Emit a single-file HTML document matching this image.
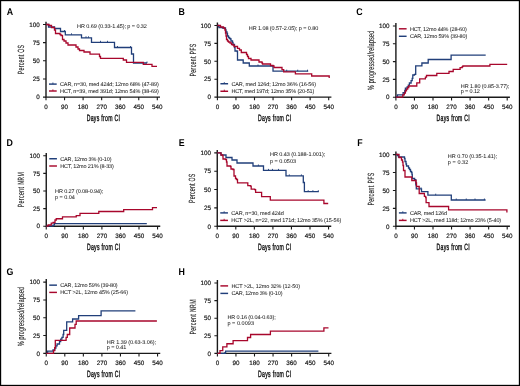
<!DOCTYPE html>
<html><head><meta charset="utf-8"><style>
html,body{margin:0;padding:0;background:#fff;}
svg{display:block;will-change:transform;}
text{font-family:"Liberation Sans", sans-serif;text-rendering:geometricPrecision;}
</style></head><body>
<svg width="520" height="386" viewBox="0 0 520 386">
<rect x="0.5" y="0.5" width="519" height="385" fill="#fff" stroke="#000" stroke-width="1.35"/>
<g><text transform="translate(6.7 14.8) scale(0.9 1)" font-size="9.8" font-weight="bold" fill="#000">A</text><path d="M46 21.8V97.1H160" fill="none" stroke="#1a1a1a" stroke-width="1.4"/><text x="39.7" y="99.35" font-size="6.3" text-anchor="end" fill="#111" stroke="#111" stroke-width="0.16">0</text><text x="39.7" y="81.2" font-size="6.3" text-anchor="end" fill="#111" stroke="#111" stroke-width="0.16">25</text><text x="39.7" y="63.05" font-size="6.3" text-anchor="end" fill="#111" stroke="#111" stroke-width="0.16">50</text><text x="39.7" y="44.9" font-size="6.3" text-anchor="end" fill="#111" stroke="#111" stroke-width="0.16">75</text><text x="39.7" y="26.75" font-size="6.3" text-anchor="end" fill="#111" stroke="#111" stroke-width="0.16">100</text><text x="46" y="108.7" font-size="6.3" text-anchor="middle" fill="#111" stroke="#111" stroke-width="0.16">0</text><text x="64.55" y="108.7" font-size="6.3" text-anchor="middle" fill="#111" stroke="#111" stroke-width="0.16">90</text><text x="83.1" y="108.7" font-size="6.3" text-anchor="middle" fill="#111" stroke="#111" stroke-width="0.16">180</text><text x="101.65" y="108.7" font-size="6.3" text-anchor="middle" fill="#111" stroke="#111" stroke-width="0.16">270</text><text x="120.2" y="108.7" font-size="6.3" text-anchor="middle" fill="#111" stroke="#111" stroke-width="0.16">360</text><text x="138.75" y="108.7" font-size="6.3" text-anchor="middle" fill="#111" stroke="#111" stroke-width="0.16">450</text><text x="157.3" y="108.7" font-size="6.3" text-anchor="middle" fill="#111" stroke="#111" stroke-width="0.16">540</text><path d="M43 97.1H46M43 78.95H46M43 60.8H46M43 42.65H46M43 24.5H46M46 97.1V100.3M64.55 97.1V100.3M83.1 97.1V100.3M101.65 97.1V100.3M120.2 97.1V100.3M138.75 97.1V100.3M157.3 97.1V100.3" fill="none" stroke="#1a1a1a" stroke-width="1.1"/><text transform="translate(86.7 120.7) scale(0.57 1)" font-size="9.0" textLength="58.25" lengthAdjust="spacing" fill="#111" stroke="#111" stroke-width="0.4">Days from CI</text><text transform="translate(24.1 74.2) rotate(-90) scale(0.57 1)" x="0" y="0" font-size="9.0" textLength="51.23" lengthAdjust="spacing" fill="#111" stroke="#111" stroke-width="0.12">Percent OS</text><path d="M49 84.1H56.7" stroke="#213f7a" stroke-width="1.45"/><path d="M52.9 84.1v-1.6" stroke="#213f7a" stroke-width="0.9"/><text transform="translate(60 85.95) scale(1.0 1)" font-size="5.5" textLength="98.8" lengthAdjust="spacing" fill="#222" stroke="#222" stroke-width="0.04">CAR, n=30, med 424d; 12mo 68% (47-89)</text><path d="M49 91H56.7" stroke="#a8072c" stroke-width="1.45"/><path d="M52.9 91v-1.6" stroke="#a8072c" stroke-width="0.9"/><text transform="translate(60 92.85) scale(1.0 1)" font-size="5.5" textLength="98.8" lengthAdjust="spacing" fill="#222" stroke="#222" stroke-width="0.04">HCT, n=39, med 391d; 12mo 54% (38-69)</text><text transform="translate(77.1 27.6) scale(1.0 1)" font-size="5.5" textLength="69.8" lengthAdjust="spacing" fill="#222" stroke="#222" stroke-width="0.04">HR 0.69 (0.33-1.45); p = 0.32</text><path d="M46 24.5H48.5V27H54.5V28.5H60.5V31.5H65.3V34.8H81.5V37.8H91.5V42.3H114.5V47.5H131.5V54H133.5V63H147" fill="none" stroke="#213f7a" stroke-width="1.3" stroke-linejoin="miter"/><path d="M64.5 31.5v-1.5M71.5 34.8v-1.5M86 37.8v-1.5M88.5 37.8v-1.5M100.5 42.3v-1.5M107.5 42.3v-1.5M117.5 47.5v-1.5M130.5 47.5v-1.5M147 63v-1.5" fill="none" stroke="#213f7a" stroke-width="0.9"/><path d="M46 24.5H49V25.5H51.5V27.5H54.5V30H55.5V33.5H60V34.5H61V35.5H62.5V39.5H64V41H66V43H68V45H76V47H78V49H79.5V50.5H84V52H90V54.2H99.5V56.5H100.5V58.3H123.3V60H126.5V62.3H143.3V64.4H152V66.3H157" fill="none" stroke="#a8072c" stroke-width="1.3" stroke-linejoin="miter"/></g>
<g><text transform="translate(178.4 14.8) scale(0.9 1)" font-size="9.8" font-weight="bold" fill="#000">B</text><path d="M217.4 22.5V97.1H331.4" fill="none" stroke="#1a1a1a" stroke-width="1.4"/><text x="211.1" y="99.35" font-size="6.3" text-anchor="end" fill="#111" stroke="#111" stroke-width="0.16">0</text><text x="211.1" y="81.45" font-size="6.3" text-anchor="end" fill="#111" stroke="#111" stroke-width="0.16">25</text><text x="211.1" y="63.55" font-size="6.3" text-anchor="end" fill="#111" stroke="#111" stroke-width="0.16">50</text><text x="211.1" y="45.65" font-size="6.3" text-anchor="end" fill="#111" stroke="#111" stroke-width="0.16">75</text><text x="211.1" y="27.75" font-size="6.3" text-anchor="end" fill="#111" stroke="#111" stroke-width="0.16">100</text><text x="217.4" y="108.7" font-size="6.3" text-anchor="middle" fill="#111" stroke="#111" stroke-width="0.16">0</text><text x="235.95" y="108.7" font-size="6.3" text-anchor="middle" fill="#111" stroke="#111" stroke-width="0.16">90</text><text x="254.5" y="108.7" font-size="6.3" text-anchor="middle" fill="#111" stroke="#111" stroke-width="0.16">180</text><text x="273.05" y="108.7" font-size="6.3" text-anchor="middle" fill="#111" stroke="#111" stroke-width="0.16">270</text><text x="291.6" y="108.7" font-size="6.3" text-anchor="middle" fill="#111" stroke="#111" stroke-width="0.16">360</text><text x="310.15" y="108.7" font-size="6.3" text-anchor="middle" fill="#111" stroke="#111" stroke-width="0.16">450</text><text x="328.7" y="108.7" font-size="6.3" text-anchor="middle" fill="#111" stroke="#111" stroke-width="0.16">540</text><path d="M214.4 97.1H217.4M214.4 79.2H217.4M214.4 61.3H217.4M214.4 43.4H217.4M214.4 25.5H217.4M217.4 97.1V100.3M235.95 97.1V100.3M254.5 97.1V100.3M273.05 97.1V100.3M291.6 97.1V100.3M310.15 97.1V100.3M328.7 97.1V100.3" fill="none" stroke="#1a1a1a" stroke-width="1.1"/><text transform="translate(258.1 120.7) scale(0.57 1)" font-size="9.0" textLength="58.25" lengthAdjust="spacing" fill="#111" stroke="#111" stroke-width="0.4">Days from CI</text><text transform="translate(195.5 76.4) rotate(-90) scale(0.57 1)" x="0" y="0" font-size="9.0" textLength="57.19" lengthAdjust="spacing" fill="#111" stroke="#111" stroke-width="0.12">Percent PFS</text><path d="M220.4 83.75H228.1" stroke="#213f7a" stroke-width="1.45"/><path d="M224.3 83.75v-1.6" stroke="#213f7a" stroke-width="0.9"/><text transform="translate(231.4 85.6) scale(1.0 1)" font-size="5.5" textLength="84.7" lengthAdjust="spacing" fill="#222" stroke="#222" stroke-width="0.04">CAR, med 126d; 12mo 36% (16-56)</text><path d="M220.4 91.25H228.1" stroke="#a8072c" stroke-width="1.45"/><path d="M224.3 91.25v-1.6" stroke="#a8072c" stroke-width="0.9"/><text transform="translate(231.4 93.1) scale(1.0 1)" font-size="5.5" textLength="83" lengthAdjust="spacing" fill="#222" stroke="#222" stroke-width="0.04">HCT, med 197d; 12mo 35% (20-51)</text><text transform="translate(248.8 29.6) scale(1.0 1)" font-size="5.5" textLength="69.4" lengthAdjust="spacing" fill="#222" stroke="#222" stroke-width="0.04">HR 1.08 (0.57-2.05); p = 0.80</text><path d="M217.4 25.5H218.5V26.5H219V27.5H222.5V28H225.5V30H226V32H227V33.5H227.5V36H228.5V37.5H229.5V38.5H230.5V39H231V41H232.5V42.5H233V44.5H234.5V47.5H235V51H237.2V51.5H237.5V60H243.2V63H249.3V66H273V71.2H308.2" fill="none" stroke="#213f7a" stroke-width="1.3" stroke-linejoin="miter"/><path d="M258 66v-1.5M286.7 71.2v-1.5M297.7 71.2v-1.5M307.5 71.2v-1.5" fill="none" stroke="#213f7a" stroke-width="0.9"/><path d="M217.4 25.5H220.5V27H223.5V28H224.5V28.5H225V30H225.5V33H226V36H226.5V39.5H227.5V41H228.5V42H230V43H231.5V44.5H233V45H234V46.5H237.5V48.3H239.5V50H241.3V52.5H246.5V54.5H247.5V56.5H248.5V58.5H251V60H259V62H262V63H262.5V64H270.5V65.5H273V66H274V67.5H282V69.6H283.7V71.9H295.4V73.9H311.7V76H329.2V78H329.2V78" fill="none" stroke="#a8072c" stroke-width="1.3" stroke-linejoin="miter"/></g>
<g><text transform="translate(356.3 15) scale(0.9 1)" font-size="9.8" font-weight="bold" fill="#000">C</text><path d="M395.9 23V97.2H509.9" fill="none" stroke="#1a1a1a" stroke-width="1.4"/><text x="389.6" y="99.45" font-size="6.3" text-anchor="end" fill="#111" stroke="#111" stroke-width="0.16">0</text><text x="389.6" y="81.65" font-size="6.3" text-anchor="end" fill="#111" stroke="#111" stroke-width="0.16">25</text><text x="389.6" y="63.85" font-size="6.3" text-anchor="end" fill="#111" stroke="#111" stroke-width="0.16">50</text><text x="389.6" y="46.05" font-size="6.3" text-anchor="end" fill="#111" stroke="#111" stroke-width="0.16">75</text><text x="389.6" y="28.25" font-size="6.3" text-anchor="end" fill="#111" stroke="#111" stroke-width="0.16">100</text><text x="395.9" y="108.8" font-size="6.3" text-anchor="middle" fill="#111" stroke="#111" stroke-width="0.16">0</text><text x="414.45" y="108.8" font-size="6.3" text-anchor="middle" fill="#111" stroke="#111" stroke-width="0.16">90</text><text x="433" y="108.8" font-size="6.3" text-anchor="middle" fill="#111" stroke="#111" stroke-width="0.16">180</text><text x="451.55" y="108.8" font-size="6.3" text-anchor="middle" fill="#111" stroke="#111" stroke-width="0.16">270</text><text x="470.1" y="108.8" font-size="6.3" text-anchor="middle" fill="#111" stroke="#111" stroke-width="0.16">360</text><text x="488.65" y="108.8" font-size="6.3" text-anchor="middle" fill="#111" stroke="#111" stroke-width="0.16">450</text><text x="507.2" y="108.8" font-size="6.3" text-anchor="middle" fill="#111" stroke="#111" stroke-width="0.16">540</text><path d="M392.9 97.2H395.9M392.9 79.4H395.9M392.9 61.6H395.9M392.9 43.8H395.9M392.9 26H395.9M395.9 97.2V100.4M414.45 97.2V100.4M433 97.2V100.4M451.55 97.2V100.4M470.1 97.2V100.4M488.65 97.2V100.4M507.2 97.2V100.4" fill="none" stroke="#1a1a1a" stroke-width="1.1"/><text transform="translate(436.6 120.8) scale(0.57 1)" font-size="9.0" textLength="58.25" lengthAdjust="spacing" fill="#111" stroke="#111" stroke-width="0.4">Days from CI</text><text transform="translate(374 89.9) rotate(-90) scale(0.57 1)" x="0" y="0" font-size="9.0" textLength="103.51" lengthAdjust="spacing" fill="#111" stroke="#111" stroke-width="0.12">% progressed/relapsed</text><path d="M398.9 28.8H406.6" stroke="#a8072c" stroke-width="1.45"/><text transform="translate(409.9 30.65) scale(1.0 1)" font-size="5.5" textLength="56.9" lengthAdjust="spacing" fill="#222" stroke="#222" stroke-width="0.04">HCT, 12mo 44% (28-60)</text><path d="M398.9 36.3H406.6" stroke="#213f7a" stroke-width="1.45"/><text transform="translate(409.9 38.15) scale(1.0 1)" font-size="5.5" textLength="57.4" lengthAdjust="spacing" fill="#222" stroke="#222" stroke-width="0.04">CAR, 12mo 59% (39-80)</text><text transform="translate(460.75 87.5) scale(1.0 1)" font-size="5.5" textLength="48.65" lengthAdjust="spacing" fill="#222" stroke="#222" stroke-width="0.04">HR 1.80 (0.85-3.77);</text><text transform="translate(460.75 93.4) scale(1.0 1)" font-size="5.5" textLength="19.15" lengthAdjust="spacing" fill="#222" stroke="#222" stroke-width="0.04">p = 0.12</text><path d="M395.9 97.1H397.4V94.9H403.1V92.6H404.8V90.3H405.4V88.1H407.1V86.9H408.3V85.2H409.4V83H411.1V80.7H412.2V78.4H412.8V75H414.5V74.4H415.7V65.8H421.9V63H428.2V59.5H451.1V55.1H485.7" fill="none" stroke="#213f7a" stroke-width="1.3" stroke-linejoin="miter"/><path d="M395.9 97.2H402.8V94.9H404.3V93.2H405.4V90.9H406.5V89.2H407.7V87.5H408.8V86H416.8V82.9H419.7V78.9H425.4V77.2H426.5V75.5H436.8V73.3H449V71.5H453.2V69.4H460.1V67.7H462.2V66.6H462.9V66H489.9V64.3H507.2" fill="none" stroke="#a8072c" stroke-width="1.3" stroke-linejoin="miter"/></g>
<g><text transform="translate(6.6 145.9) scale(0.9 1)" font-size="9.8" font-weight="bold" fill="#000">D</text><path d="M46.25 152.9V226.2H160.25" fill="none" stroke="#1a1a1a" stroke-width="1.4"/><text x="39.95" y="228.45" font-size="6.3" text-anchor="end" fill="#111" stroke="#111" stroke-width="0.16">0</text><text x="39.95" y="210.85" font-size="6.3" text-anchor="end" fill="#111" stroke="#111" stroke-width="0.16">25</text><text x="39.95" y="193.25" font-size="6.3" text-anchor="end" fill="#111" stroke="#111" stroke-width="0.16">50</text><text x="39.95" y="175.65" font-size="6.3" text-anchor="end" fill="#111" stroke="#111" stroke-width="0.16">75</text><text x="39.95" y="158.05" font-size="6.3" text-anchor="end" fill="#111" stroke="#111" stroke-width="0.16">100</text><text x="46.25" y="237.8" font-size="6.3" text-anchor="middle" fill="#111" stroke="#111" stroke-width="0.16">0</text><text x="64.8" y="237.8" font-size="6.3" text-anchor="middle" fill="#111" stroke="#111" stroke-width="0.16">90</text><text x="83.35" y="237.8" font-size="6.3" text-anchor="middle" fill="#111" stroke="#111" stroke-width="0.16">180</text><text x="101.9" y="237.8" font-size="6.3" text-anchor="middle" fill="#111" stroke="#111" stroke-width="0.16">270</text><text x="120.45" y="237.8" font-size="6.3" text-anchor="middle" fill="#111" stroke="#111" stroke-width="0.16">360</text><text x="139" y="237.8" font-size="6.3" text-anchor="middle" fill="#111" stroke="#111" stroke-width="0.16">450</text><text x="157.55" y="237.8" font-size="6.3" text-anchor="middle" fill="#111" stroke="#111" stroke-width="0.16">540</text><path d="M43.25 226.2H46.25M43.25 208.6H46.25M43.25 191H46.25M43.25 173.4H46.25M43.25 155.8H46.25M46.25 226.2V229.4M64.8 226.2V229.4M83.35 226.2V229.4M101.9 226.2V229.4M120.45 226.2V229.4M139 226.2V229.4M157.55 226.2V229.4" fill="none" stroke="#1a1a1a" stroke-width="1.1"/><text transform="translate(86.95 249.8) scale(0.57 1)" font-size="9.0" textLength="58.25" lengthAdjust="spacing" fill="#111" stroke="#111" stroke-width="0.4">Days from CI</text><text transform="translate(24.35 207.3) rotate(-90) scale(0.57 1)" x="0" y="0" font-size="9.0" textLength="61.4" lengthAdjust="spacing" fill="#111" stroke="#111" stroke-width="0.12">Percent NRM</text><path d="M49.25 158.75H56.95" stroke="#213f7a" stroke-width="1.45"/><text transform="translate(60.25 160.6) scale(1.0 1)" font-size="5.5" textLength="51.25" lengthAdjust="spacing" fill="#222" stroke="#222" stroke-width="0.04">CAR, 12mo 3% (0-10)</text><path d="M49.25 166H56.95" stroke="#a8072c" stroke-width="1.45"/><text transform="translate(60.25 167.85) scale(1.0 1)" font-size="5.5" textLength="53.55" lengthAdjust="spacing" fill="#222" stroke="#222" stroke-width="0.04">HCT, 12mo 21% (8-33)</text><text transform="translate(55 192.5) scale(1.0 1)" font-size="5.5" textLength="48.3" lengthAdjust="spacing" fill="#222" stroke="#222" stroke-width="0.04">HR 0.27 (0.08-0.94);</text><text transform="translate(55 198.6) scale(1.0 1)" font-size="5.5" textLength="19.8" lengthAdjust="spacing" fill="#222" stroke="#222" stroke-width="0.04">p = 0.04</text><path d="M46.25 226.2H53V225.2H54.4V223.6H146.8" fill="none" stroke="#213f7a" stroke-width="1.3" stroke-linejoin="miter"/><path d="M46.25 226.2H48.1V225H51.25V223.1H53.1V222.5H55V220H56.25V218.75H62.5V216.9H76.25V215.6H80V213.3H98.8V211.5H123.7V209.7H152.5V207.7H157" fill="none" stroke="#a8072c" stroke-width="1.3" stroke-linejoin="miter"/></g>
<g><text transform="translate(178.7 145.9) scale(0.9 1)" font-size="9.8" font-weight="bold" fill="#000">E</text><path d="M217.25 150V226.25H331.25" fill="none" stroke="#1a1a1a" stroke-width="1.4"/><text x="210.95" y="228.5" font-size="6.3" text-anchor="end" fill="#111" stroke="#111" stroke-width="0.16">0</text><text x="210.95" y="210.16" font-size="6.3" text-anchor="end" fill="#111" stroke="#111" stroke-width="0.16">25</text><text x="210.95" y="191.82" font-size="6.3" text-anchor="end" fill="#111" stroke="#111" stroke-width="0.16">50</text><text x="210.95" y="173.49" font-size="6.3" text-anchor="end" fill="#111" stroke="#111" stroke-width="0.16">75</text><text x="210.95" y="155.15" font-size="6.3" text-anchor="end" fill="#111" stroke="#111" stroke-width="0.16">100</text><text x="217.25" y="237.85" font-size="6.3" text-anchor="middle" fill="#111" stroke="#111" stroke-width="0.16">0</text><text x="235.8" y="237.85" font-size="6.3" text-anchor="middle" fill="#111" stroke="#111" stroke-width="0.16">90</text><text x="254.35" y="237.85" font-size="6.3" text-anchor="middle" fill="#111" stroke="#111" stroke-width="0.16">180</text><text x="272.9" y="237.85" font-size="6.3" text-anchor="middle" fill="#111" stroke="#111" stroke-width="0.16">270</text><text x="291.45" y="237.85" font-size="6.3" text-anchor="middle" fill="#111" stroke="#111" stroke-width="0.16">360</text><text x="310" y="237.85" font-size="6.3" text-anchor="middle" fill="#111" stroke="#111" stroke-width="0.16">450</text><text x="328.55" y="237.85" font-size="6.3" text-anchor="middle" fill="#111" stroke="#111" stroke-width="0.16">540</text><path d="M214.25 226.25H217.25M214.25 207.91H217.25M214.25 189.57H217.25M214.25 171.24H217.25M214.25 152.9H217.25M217.25 226.25V229.45M235.8 226.25V229.45M254.35 226.25V229.45M272.9 226.25V229.45M291.45 226.25V229.45M310 226.25V229.45M328.55 226.25V229.45" fill="none" stroke="#1a1a1a" stroke-width="1.1"/><text transform="translate(257.95 249.85) scale(0.57 1)" font-size="9.0" textLength="58.25" lengthAdjust="spacing" fill="#111" stroke="#111" stroke-width="0.4">Days from CI</text><text transform="translate(195.35 202.97) rotate(-90) scale(0.57 1)" x="0" y="0" font-size="9.0" textLength="51.23" lengthAdjust="spacing" fill="#111" stroke="#111" stroke-width="0.12">Percent OS</text><path d="M220.25 212.9H227.95" stroke="#213f7a" stroke-width="1.45"/><path d="M224.15 212.9v-1.6" stroke="#213f7a" stroke-width="0.9"/><text transform="translate(231.25 214.75) scale(1.0 1)" font-size="5.5" textLength="52.5" lengthAdjust="spacing" fill="#222" stroke="#222" stroke-width="0.04">CAR, n=30, med 424d</text><path d="M220.25 220.4H227.95" stroke="#a8072c" stroke-width="1.45"/><path d="M224.15 220.4v-1.6" stroke="#a8072c" stroke-width="0.9"/><text transform="translate(231.25 222.25) scale(1.0 1)" font-size="5.5" textLength="110" lengthAdjust="spacing" fill="#222" stroke="#222" stroke-width="0.04">HCT &gt;2L, n=22, med 171d; 12mo 35% (15-56)</text><text transform="translate(270 156.1) scale(1.0 1)" font-size="5.5" textLength="55.2" lengthAdjust="spacing" fill="#222" stroke="#222" stroke-width="0.04">HR 0.43 (0.188-1.001);</text><text transform="translate(270 162.5) scale(1.0 1)" font-size="5.5" textLength="26" lengthAdjust="spacing" fill="#222" stroke="#222" stroke-width="0.04">p = 0.0503</text><path d="M217.25 152.9H220.5V153H221V155H226V157.5H232V160H237V163H253V166H263.5V170.4H286V175.9H303.3V182.5H304.4V191.7H318.8" fill="none" stroke="#213f7a" stroke-width="1.3" stroke-linejoin="miter"/><path d="M258.4 166v-1.5M268.5 170.4v-1.5M272.5 170.4v-1.5M278.5 170.4v-1.5M289.3 175.9v-1.5M301.4 175.9v-1.5M308.2 191.7v-1.5M312.9 191.7v-1.5M318.3 191.7v-1.5" fill="none" stroke="#213f7a" stroke-width="0.9"/><path d="M217.25 152.9H221V155H222.5V155.5H223V159H225.5V159.5H226.5V162H227V166H230.5V166.5H231V169H233V169.5H234V176H235.5V178.5H236.5V179.5H237.5V182.8H247.8V185.7H250.4V186.2H251.2V189.2H254.7V189.7H255.6V192.3H261.6V196.6H270.3V200.1H323.9V203.5H328.2" fill="none" stroke="#a8072c" stroke-width="1.3" stroke-linejoin="miter"/></g>
<g><text transform="translate(357.2 145.6) scale(0.9 1)" font-size="9.8" font-weight="bold" fill="#000">F</text><path d="M395.9 151.5V226.25H509.9" fill="none" stroke="#1a1a1a" stroke-width="1.4"/><text x="389.6" y="228.5" font-size="6.3" text-anchor="end" fill="#111" stroke="#111" stroke-width="0.16">0</text><text x="389.6" y="210.59" font-size="6.3" text-anchor="end" fill="#111" stroke="#111" stroke-width="0.16">25</text><text x="389.6" y="192.68" font-size="6.3" text-anchor="end" fill="#111" stroke="#111" stroke-width="0.16">50</text><text x="389.6" y="174.76" font-size="6.3" text-anchor="end" fill="#111" stroke="#111" stroke-width="0.16">75</text><text x="389.6" y="156.85" font-size="6.3" text-anchor="end" fill="#111" stroke="#111" stroke-width="0.16">100</text><text x="395.9" y="237.85" font-size="6.3" text-anchor="middle" fill="#111" stroke="#111" stroke-width="0.16">0</text><text x="414.45" y="237.85" font-size="6.3" text-anchor="middle" fill="#111" stroke="#111" stroke-width="0.16">90</text><text x="433" y="237.85" font-size="6.3" text-anchor="middle" fill="#111" stroke="#111" stroke-width="0.16">180</text><text x="451.55" y="237.85" font-size="6.3" text-anchor="middle" fill="#111" stroke="#111" stroke-width="0.16">270</text><text x="470.1" y="237.85" font-size="6.3" text-anchor="middle" fill="#111" stroke="#111" stroke-width="0.16">360</text><text x="488.65" y="237.85" font-size="6.3" text-anchor="middle" fill="#111" stroke="#111" stroke-width="0.16">450</text><text x="507.2" y="237.85" font-size="6.3" text-anchor="middle" fill="#111" stroke="#111" stroke-width="0.16">540</text><path d="M392.9 226.25H395.9M392.9 208.34H395.9M392.9 190.43H395.9M392.9 172.51H395.9M392.9 154.6H395.9M395.9 226.25V229.45M414.45 226.25V229.45M433 226.25V229.45M451.55 226.25V229.45M470.1 226.25V229.45M488.65 226.25V229.45M507.2 226.25V229.45" fill="none" stroke="#1a1a1a" stroke-width="1.1"/><text transform="translate(436.6 249.85) scale(0.57 1)" font-size="9.0" textLength="58.25" lengthAdjust="spacing" fill="#111" stroke="#111" stroke-width="0.4">Days from CI</text><text transform="translate(374 205.53) rotate(-90) scale(0.57 1)" x="0" y="0" font-size="9.0" textLength="57.19" lengthAdjust="spacing" fill="#111" stroke="#111" stroke-width="0.12">Percent PFS</text><path d="M398.9 212.9H406.6" stroke="#213f7a" stroke-width="1.45"/><path d="M402.8 212.9v-1.6" stroke="#213f7a" stroke-width="0.9"/><text transform="translate(409.9 214.75) scale(1.0 1)" font-size="5.5" textLength="37.1" lengthAdjust="spacing" fill="#222" stroke="#222" stroke-width="0.04">CAR, med 126d</text><path d="M398.9 220.4H406.6" stroke="#a8072c" stroke-width="1.45"/><path d="M402.8 220.4v-1.6" stroke="#a8072c" stroke-width="0.9"/><text transform="translate(409.9 222.25) scale(1.0 1)" font-size="5.5" textLength="91.3" lengthAdjust="spacing" fill="#222" stroke="#222" stroke-width="0.04">HCT &gt;2L, med 118d; 12mo 23% (5-40)</text><text transform="translate(447.8 158.1) scale(1.0 1)" font-size="5.5" textLength="49.4" lengthAdjust="spacing" fill="#222" stroke="#222" stroke-width="0.04">HR 0.70 (0.35-1.41);</text><text transform="translate(447.8 164.2) scale(1.0 1)" font-size="5.5" textLength="20.5" lengthAdjust="spacing" fill="#222" stroke="#222" stroke-width="0.04">p = 0.32</text><path d="M395.9 154.5H397.5V155.5H398.5V157H404.5V158.5H405V161.5H406V164H406.5V166H408.5V168H409.5V169.5H410.5V171.5H411.5V172.5H412V174.5H412.3V178.5H414.6V179.6H415.8V184.8H416.3V188.8H421.5V191.7H427.9V195.2H451.3V200H485.6" fill="none" stroke="#213f7a" stroke-width="1.3" stroke-linejoin="miter"/><path d="M421 188.8v-1.5M435.7 195.2v-1.5M456.25 200v-1.5M466.25 200v-1.5M475 200v-1.5M484.4 200v-1.5" fill="none" stroke="#213f7a" stroke-width="0.9"/><path d="M395.9 154.5H399V157.5H401.5V160H402.5V162H403V165.5H403.5V170.5H405V177H411.8V180.5H416V183H416.5V186.5H419.2V193.5H424.4V196.3H425.6V197.5H426.1V202.7H429V206.5H448.6V209.9H506.9V212.5" fill="none" stroke="#a8072c" stroke-width="1.3" stroke-linejoin="miter"/></g>
<g><text transform="translate(6.6 275) scale(0.9 1)" font-size="9.8" font-weight="bold" fill="#000">G</text><path d="M46.25 279.1V353.4H160.25" fill="none" stroke="#1a1a1a" stroke-width="1.4"/><text x="39.95" y="355.65" font-size="6.3" text-anchor="end" fill="#111" stroke="#111" stroke-width="0.16">0</text><text x="39.95" y="337.82" font-size="6.3" text-anchor="end" fill="#111" stroke="#111" stroke-width="0.16">25</text><text x="39.95" y="320" font-size="6.3" text-anchor="end" fill="#111" stroke="#111" stroke-width="0.16">50</text><text x="39.95" y="302.18" font-size="6.3" text-anchor="end" fill="#111" stroke="#111" stroke-width="0.16">75</text><text x="39.95" y="284.35" font-size="6.3" text-anchor="end" fill="#111" stroke="#111" stroke-width="0.16">100</text><text x="46.25" y="365" font-size="6.3" text-anchor="middle" fill="#111" stroke="#111" stroke-width="0.16">0</text><text x="64.8" y="365" font-size="6.3" text-anchor="middle" fill="#111" stroke="#111" stroke-width="0.16">90</text><text x="83.35" y="365" font-size="6.3" text-anchor="middle" fill="#111" stroke="#111" stroke-width="0.16">180</text><text x="101.9" y="365" font-size="6.3" text-anchor="middle" fill="#111" stroke="#111" stroke-width="0.16">270</text><text x="120.45" y="365" font-size="6.3" text-anchor="middle" fill="#111" stroke="#111" stroke-width="0.16">360</text><text x="139" y="365" font-size="6.3" text-anchor="middle" fill="#111" stroke="#111" stroke-width="0.16">450</text><text x="157.55" y="365" font-size="6.3" text-anchor="middle" fill="#111" stroke="#111" stroke-width="0.16">540</text><path d="M43.25 353.4H46.25M43.25 335.57H46.25M43.25 317.75H46.25M43.25 299.93H46.25M43.25 282.1H46.25M46.25 353.4V356.6M64.8 353.4V356.6M83.35 353.4V356.6M101.9 353.4V356.6M120.45 353.4V356.6M139 353.4V356.6M157.55 353.4V356.6" fill="none" stroke="#1a1a1a" stroke-width="1.1"/><text transform="translate(86.95 377) scale(0.57 1)" font-size="9.0" textLength="58.25" lengthAdjust="spacing" fill="#111" stroke="#111" stroke-width="0.4">Days from CI</text><text transform="translate(24.35 346.05) rotate(-90) scale(0.57 1)" x="0" y="0" font-size="9.0" textLength="103.51" lengthAdjust="spacing" fill="#111" stroke="#111" stroke-width="0.12">% progressed/relapsed</text><path d="M49.25 285.15H56.95" stroke="#213f7a" stroke-width="1.45"/><text transform="translate(60.25 287) scale(1.0 1)" font-size="5.5" textLength="57.45" lengthAdjust="spacing" fill="#222" stroke="#222" stroke-width="0.04">CAR, 12mo 59% (39-80)</text><path d="M49.25 292.4H56.95" stroke="#a8072c" stroke-width="1.45"/><text transform="translate(60.25 294.25) scale(1.0 1)" font-size="5.5" textLength="67.75" lengthAdjust="spacing" fill="#222" stroke="#222" stroke-width="0.04">HCT &gt;2L, 12mo 45% (25-66)</text><text transform="translate(106.8 343.5) scale(1.0 1)" font-size="5.5" textLength="49.4" lengthAdjust="spacing" fill="#222" stroke="#222" stroke-width="0.04">HR 1.39 (0.63-3.06);</text><text transform="translate(106.8 349.2) scale(1.0 1)" font-size="5.5" textLength="19.4" lengthAdjust="spacing" fill="#222" stroke="#222" stroke-width="0.04">p = 0.41</text><path d="M46.25 353.4H47.6V351.2H53V350H54.7V348.2H55.9V345.8H57.1V344H59.5V341.6H60.7V339.2H61.9V337.4H63.1V334.5H63.7V330.3H66.7V321.9H72.6V319H78.6V315.7H101.1V310.8H135.4" fill="none" stroke="#213f7a" stroke-width="1.3" stroke-linejoin="miter"/><path d="M46.25 353.4H53.5V350.6H54.7V347.6H55.3V340.4H66.1V337.4H67.3V334.5H69.7V328H75V324.3H76.2V321H156.9" fill="none" stroke="#a8072c" stroke-width="1.3" stroke-linejoin="miter"/></g>
<g><text transform="translate(178.45 274.75) scale(0.9 1)" font-size="9.8" font-weight="bold" fill="#000">H</text><path d="M217.4 280V353.4H331.4" fill="none" stroke="#1a1a1a" stroke-width="1.4"/><text x="211.1" y="355.65" font-size="6.3" text-anchor="end" fill="#111" stroke="#111" stroke-width="0.16">0</text><text x="211.1" y="338.05" font-size="6.3" text-anchor="end" fill="#111" stroke="#111" stroke-width="0.16">25</text><text x="211.1" y="320.45" font-size="6.3" text-anchor="end" fill="#111" stroke="#111" stroke-width="0.16">50</text><text x="211.1" y="302.85" font-size="6.3" text-anchor="end" fill="#111" stroke="#111" stroke-width="0.16">75</text><text x="211.1" y="285.25" font-size="6.3" text-anchor="end" fill="#111" stroke="#111" stroke-width="0.16">100</text><text x="217.4" y="365" font-size="6.3" text-anchor="middle" fill="#111" stroke="#111" stroke-width="0.16">0</text><text x="235.95" y="365" font-size="6.3" text-anchor="middle" fill="#111" stroke="#111" stroke-width="0.16">90</text><text x="254.5" y="365" font-size="6.3" text-anchor="middle" fill="#111" stroke="#111" stroke-width="0.16">180</text><text x="273.05" y="365" font-size="6.3" text-anchor="middle" fill="#111" stroke="#111" stroke-width="0.16">270</text><text x="291.6" y="365" font-size="6.3" text-anchor="middle" fill="#111" stroke="#111" stroke-width="0.16">360</text><text x="310.15" y="365" font-size="6.3" text-anchor="middle" fill="#111" stroke="#111" stroke-width="0.16">450</text><text x="328.7" y="365" font-size="6.3" text-anchor="middle" fill="#111" stroke="#111" stroke-width="0.16">540</text><path d="M214.4 353.4H217.4M214.4 335.8H217.4M214.4 318.2H217.4M214.4 300.6H217.4M214.4 283H217.4M217.4 353.4V356.6M235.95 353.4V356.6M254.5 353.4V356.6M273.05 353.4V356.6M291.6 353.4V356.6M310.15 353.4V356.6M328.7 353.4V356.6" fill="none" stroke="#1a1a1a" stroke-width="1.1"/><text transform="translate(258.1 377) scale(0.57 1)" font-size="9.0" textLength="58.25" lengthAdjust="spacing" fill="#111" stroke="#111" stroke-width="0.4">Days from CI</text><text transform="translate(195.5 334.5) rotate(-90) scale(0.57 1)" x="0" y="0" font-size="9.0" textLength="61.4" lengthAdjust="spacing" fill="#111" stroke="#111" stroke-width="0.12">Percent NRM</text><path d="M220.4 285.9H228.1" stroke="#a8072c" stroke-width="1.45"/><text transform="translate(231.4 287.75) scale(1.0 1)" font-size="5.5" textLength="68.7" lengthAdjust="spacing" fill="#222" stroke="#222" stroke-width="0.04">HCT &gt;2L, 12mo 32% (12-50)</text><path d="M220.4 293.4H228.1" stroke="#213f7a" stroke-width="1.45"/><text transform="translate(231.4 295.25) scale(1.0 1)" font-size="5.5" textLength="51.1" lengthAdjust="spacing" fill="#222" stroke="#222" stroke-width="0.04">CAR, 12mo 3% (0-10)</text><text transform="translate(227.4 319.05) scale(1.0 1)" font-size="5.5" textLength="48.4" lengthAdjust="spacing" fill="#222" stroke="#222" stroke-width="0.04">HR 0.16 (0.04-0.63);</text><text transform="translate(227.4 325.15) scale(1.0 1)" font-size="5.5" textLength="26.6" lengthAdjust="spacing" fill="#222" stroke="#222" stroke-width="0.04">p = 0.0093</text><path d="M217.4 353.4H225V352.75H225.6V351.2H318.4" fill="none" stroke="#213f7a" stroke-width="1.3" stroke-linejoin="miter"/><path d="M217.4 353.4H220V350.6H222.75V346.9H226.9V343.75H233.1V340.6H247.5V337.5H250.6V334.5H270.4V331.1H323.9V327.8H328.5" fill="none" stroke="#a8072c" stroke-width="1.3" stroke-linejoin="miter"/></g>
</svg>
</body></html>
